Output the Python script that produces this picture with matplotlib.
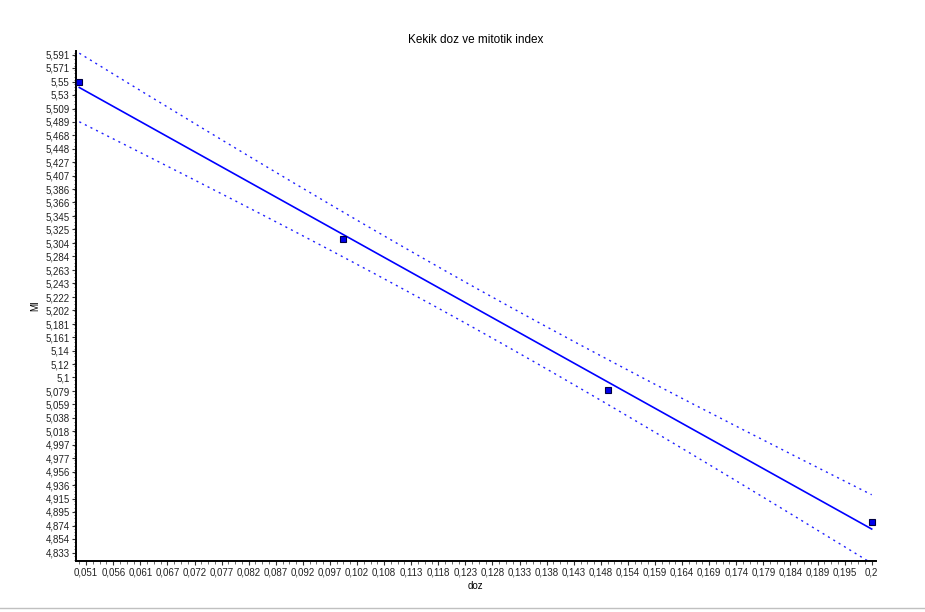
import numpy as np
import matplotlib
matplotlib.use("Agg")
import matplotlib.pyplot as plt
from matplotlib.ticker import AutoMinorLocator
from matplotlib.lines import Line2D

# ---- data ----
doz = [0.05, 0.10, 0.15, 0.20]
mi = [5.55, 5.31, 5.08, 4.88]

x_tick_labels = ["0,051", "0,056", "0,061", "0,067", "0,072", "0,077", "0,082", "0,087",
                 "0,092", "0,097", "0,102", "0,108", "0,113", "0,118", "0,123", "0,128",
                 "0,133", "0,138", "0,143", "0,148", "0,154", "0,159", "0,164", "0,169",
                 "0,174", "0,179", "0,184", "0,189", "0,195", "0,2"]
y_tick_labels = ["5,591", "5,571", "5,55", "5,53", "5,509", "5,489", "5,468", "5,448",
                 "5,427", "5,407", "5,386", "5,366", "5,345", "5,325", "5,304", "5,284",
                 "5,263", "5,243", "5,222", "5,202", "5,181", "5,161", "5,14", "5,12",
                 "5,1", "5,079", "5,059", "5,038", "5,018", "4,997", "4,977", "4,956",
                 "4,936", "4,915", "4,895", "4,874", "4,854", "4,833"]

title = "Kekik doz ve mitotik index"
xlabel = "doz"
ylabel = "MI"

# ---- regression with 95% confidence band ----
x = np.array(doz)
y = np.array(mi)
n = len(x)
slope, intercept = np.polyfit(x, y, 1)
resid = y - (slope * x + intercept)
s = np.sqrt(np.sum(resid ** 2) / (n - 2))
t_crit = 4.303  # t(0.975, df=2)
xf = np.linspace(x.min(), x.max(), 200)
yf = slope * xf + intercept
se = s * np.sqrt(1.0 / n + (xf - x.mean()) ** 2 / np.sum((x - x.mean()) ** 2))
upper = yf + t_crit * se
lower = yf - t_crit * se

plt.rcParams['font.family'] = ['Liberation Sans', 'DejaVu Sans']

fig = plt.figure(figsize=(9.25, 6.12), dpi=100)
ax = fig.add_axes([0.0822, 0.0833, 0.8645, 0.8334])

ax.plot(xf, yf, color="#0000ff", lw=1.2, zorder=3)
ax.plot(xf, upper, color="#2020ff", lw=1.0, ls=(0, (1.5, 3)), zorder=2)
ax.plot(xf, lower, color="#2020ff", lw=1.0, ls=(0, (1.5, 3)), zorder=2)
ax.plot(x, y, ls="none", marker="s", markersize=5, markerfacecolor="#0000ee",
        markeredgecolor="#000040", markeredgewidth=0.8, zorder=4, clip_on=False)

ax.set_xlim(0.04938, 0.20076)
ax.set_ylim(4.8203, 5.5966)

xt = np.linspace(0.0513, 0.2, len(x_tick_labels))
ax.set_xticks(xt)
ax.set_xticklabels(x_tick_labels)
yt = [float(v.replace(",", ".")) for v in y_tick_labels]
ax.set_yticks(yt)
ax.set_yticklabels(y_tick_labels)
ax.xaxis.set_minor_locator(AutoMinorLocator(4))
ax.yaxis.set_minor_locator(AutoMinorLocator(4))

ax.tick_params(axis="both", which="major", labelsize=7, length=3, width=0.8,
               color="#333333", pad=1.5, labelcolor="#222222")
ax.tick_params(axis="both", which="minor", length=1.8, width=0.6, color="#555555")

for sp in ["top", "right"]:
    ax.spines[sp].set_visible(False)
for sp in ["left", "bottom"]:
    ax.spines[sp].set_linewidth(1.4)
    ax.spines[sp].set_color("black")

ax.set_title(title, fontsize=8.5, pad=6)
ax.set_xlabel(xlabel, fontsize=7, labelpad=3)
ax.set_ylabel(ylabel, fontsize=7, labelpad=4)

fig.add_artist(Line2D([0, 1], [0.0065, 0.0065], transform=fig.transFigure,
                      color="#c0c0c0", lw=1.0))

fig.savefig("out.png", dpi=100, facecolor="white")
